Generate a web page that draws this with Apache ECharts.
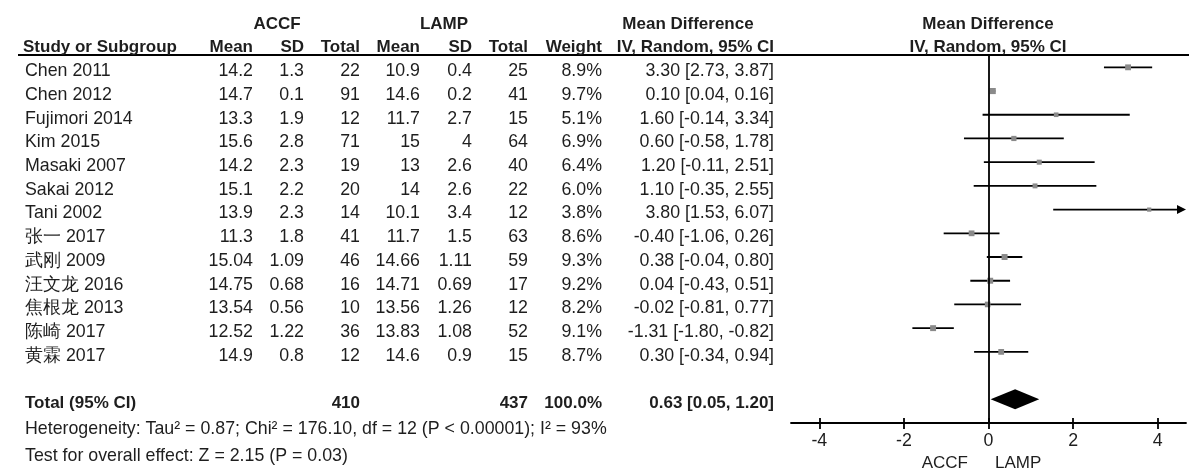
<!DOCTYPE html>
<html>
<head>
<meta charset="utf-8">
<script src="https://cdn.jsdelivr.net/npm/echarts@6/dist/echarts.min.js"></script>
<style>
html,body{margin:0;padding:0;background:#fff;}
#chart{width:1189px;height:473px;}
</style>
</head>
<body>
<div id="chart"></div>
<script>
// ---------------- data ----------------
const studies = ['Chen 2011','Chen 2012','Fujimori 2014','Kim 2015','Masaki 2007','Sakai 2012','Tani 2002','张一 2017','武刚 2009','汪文龙 2016','焦根龙 2013','陈崎 2017','黄霖 2017'];
const accfMean = [14.2,14.7,13.3,15.6,14.2,15.1,13.9,11.3,15.04,14.75,13.54,12.52,14.9];
const accfSD   = [1.3,0.1,1.9,2.8,2.3,2.2,2.3,1.8,1.09,0.68,0.56,1.22,0.8];
const accfN    = [22,91,12,71,19,20,14,41,46,16,10,36,12];
const lampMean = [10.9,14.6,11.7,15,13,14,10.1,11.7,14.66,14.71,13.56,13.83,14.6];
const lampSD   = [0.4,0.2,2.7,4,2.6,2.6,3.4,1.5,1.11,0.69,1.26,1.08,0.9];
const lampN    = [25,41,15,64,40,22,12,63,59,17,12,52,15];
const weights  = [8.9,9.7,5.1,6.9,6.4,6.0,3.8,8.6,9.3,9.2,8.2,9.1,8.7];
const md       = [3.30,0.10,1.60,0.60,1.20,1.10,3.80,-0.40,0.38,0.04,-0.02,-1.31,0.30];
const ciLow    = [2.73,0.04,-0.14,-0.58,-0.11,-0.35,1.53,-1.06,-0.04,-0.43,-0.81,-1.80,-0.34];
const ciHigh   = [3.87,0.16,3.34,1.78,2.51,2.55,6.07,0.26,0.80,0.51,0.77,-0.82,0.94];
const totalAccfN = 410, totalLampN = 437, totalWeight = 100.0;
const totalMD = 0.63, totalLow = 0.05, totalHigh = 1.20;
const tickValues = [-4,-2,0,2,4];
const heterogeneityText = 'Heterogeneity: Tau\u00b2 = 0.87; Chi\u00b2 = 176.10, df = 12 (P < 0.00001); I\u00b2 = 93%';
const overallText = 'Test for overall effect: Z = 2.15 (P = 0.03)';

// ---------------- layout ----------------
const XMIN = -4.67, XMAX = 4.67;
const FONT = '"Liberation Sans", Arial, sans-serif';
const FS = 17.8;
const TXT = '#1e1e1e';
const TEXT_DY = 4;
const TOTAL_ROW = 14;
const LW = 1.8;

const ciText = (m,l,h) => m.toFixed(2) + ' [' + l.toFixed(2) + ', ' + h.toFixed(2) + ']';

function txt(text, x, y, align, bold, size) {
  return {
    type: 'text',
    style: {
      text: text, x: x, y: y, align: align || 'left', verticalAlign: 'middle',
      fill: TXT, fontFamily: FONT, fontSize: size || FS, fontWeight: bold ? 'bold' : 'normal'
    },
    silent: true
  };
}

const chart = echarts.init(document.getElementById('chart'), null, {renderer: 'canvas'});

const ciData = studies.map((s, i) => [ciLow[i], ciHigh[i], md[i], weights[i], i]);
const tableData = studies.map((s, i) => [0, i]);

function renderCI(params, api) {
  const lo = api.value(0), hi = api.value(1), m = api.value(2), w = api.value(3), r = api.value(4);
  const p0 = api.coord([Math.max(lo, XMIN), r]);
  const p1 = api.coord([Math.min(hi, XMAX), r]);
  const pm = api.coord([m, r]);
  const children = [];
  const arrow = hi > XMAX;
  children.push({
    type: 'line',
    shape: {x1: p0[0], y1: p0[1], x2: arrow ? p1[0] - 6 : p1[0], y2: p1[1]},
    style: {stroke: '#000', lineWidth: LW}
  });
  if (arrow) {
    children.push({
      type: 'polygon',
      shape: {points: [[p1[0], p1[1]], [p1[0] - 9, p1[1] - 4.5], [p1[0] - 9, p1[1] + 4.5]]},
      style: {fill: '#000'}
    });
  }
  const s = 3 + w * 0.32;
  children.push({
    type: 'rect',
    shape: {x: pm[0] - s / 2, y: pm[1] - s / 2, width: s, height: s},
    style: {fill: '#8a8a8a'}
  });
  return {type: 'group', children: children};
}

function renderDiamond(params, api) {
  const lo = api.coord([api.value(0), api.value(3)]);
  const hi = api.coord([api.value(1), api.value(3)]);
  const m = api.coord([api.value(2), api.value(3)]);
  const h = 10;
  return {
    type: 'polygon',
    shape: {points: [[lo[0], lo[1]], [m[0], m[1] - h], [hi[0], hi[1]], [m[0], m[1] + h]]},
    style: {fill: '#000'}
  };
}

function renderTable(params, api) {
  const i = params.dataIndex;
  const y = api.coord([0, api.value(1)])[1] + TEXT_DY;
  return {
    type: 'group',
    children: [
      txt(studies[i], 25, y, 'left'),
      txt(String(accfMean[i]), 253, y, 'right'),
      txt(String(accfSD[i]), 304, y, 'right'),
      txt(String(accfN[i]), 360, y, 'right'),
      txt(String(lampMean[i]), 420, y, 'right'),
      txt(String(lampSD[i]), 472, y, 'right'),
      txt(String(lampN[i]), 528, y, 'right'),
      txt(weights[i].toFixed(1) + '%', 602, y, 'right'),
      txt(ciText(md[i], ciLow[i], ciHigh[i]), 774, y, 'right')
    ]
  };
}

function renderTotal(params, api) {
  const y = api.coord([0, api.value(1)])[1] + TEXT_DY;
  return {
    type: 'group',
    children: [
      txt('Total (95% CI)', 25, y, 'left', true, 17),
      txt(String(totalAccfN), 360, y, 'right', true, 17),
      txt(String(totalLampN), 528, y, 'right', true, 17),
      txt(totalWeight.toFixed(1) + '%', 602, y, 'right', true, 17),
      txt(ciText(totalMD, totalLow, totalHigh), 774, y, 'right', true, 17)
    ]
  };
}

const option = {
  animation: false,
  backgroundColor: '#fff',
  grid: {left: 791, right: 3, top: 55, bottom: 50, containLabel: false},
  xAxis: [
    {
      type: 'value', min: XMIN, max: XMAX, position: 'bottom',
      axisLine: {show: true, onZero: false, lineStyle: {color: '#000', width: LW}},
      axisTick: {show: true, customValues: tickValues, length: 6, lineStyle: {color: '#000', width: LW}},
      axisLabel: {show: true, customValues: tickValues, margin: 9, color: TXT, fontFamily: FONT, fontSize: FS,
        showMinLabel: true, showMaxLabel: true},
      splitLine: {show: false}
    },
    {
      type: 'value', min: XMIN, max: XMAX, position: 'bottom', offset: 0,
      axisLine: {show: false, onZero: false},
      axisTick: {show: true, inside: true, customValues: tickValues, length: 5, lineStyle: {color: '#000', width: LW}},
      axisLabel: {show: false},
      splitLine: {show: false}
    }
  ],
  yAxis: {
    type: 'value', min: -0.52, max: 15.0, inverse: true, show: false
  },
  series: [
    {
      type: 'custom', name: 'ci', xAxisIndex: 0, yAxisIndex: 0, clip: false,
      renderItem: renderCI, data: ciData,
      encode: {x: [0, 1, 2], y: 4},
      markLine: {
        silent: true, symbol: ['none', 'none'], animation: false,
        label: {show: false},
        lineStyle: {color: '#000', width: LW, type: 'solid'},
        data: [{xAxis: 0}]
      }
    },
    {
      type: 'custom', name: 'total', xAxisIndex: 0, yAxisIndex: 0, clip: false,
      renderItem: renderDiamond, data: [[totalLow, totalHigh, totalMD, TOTAL_ROW]],
      encode: {x: [0, 1, 2], y: 3}
    },
    {
      type: 'custom', name: 'table', xAxisIndex: 0, yAxisIndex: 0, clip: false, silent: true,
      renderItem: renderTable, data: tableData,
      encode: {x: 0, y: 1}
    },
    {
      type: 'custom', name: 'tableTotal', xAxisIndex: 0, yAxisIndex: 0, clip: false, silent: true,
      renderItem: renderTotal, data: [[0, TOTAL_ROW]],
      encode: {x: 0, y: 1}
    }
  ],
  graphic: [
    {type: 'line', shape: {x1: 18, y1: 55, x2: 1189, y2: 55}, style: {stroke: '#000', lineWidth: LW}, silent: true},
    txt('ACCF', 277, 24, 'center', true, 17),
    txt('LAMP', 444, 24, 'center', true, 17),
    txt('Mean Difference', 688, 24, 'center', true, 17),
    txt('Mean Difference', 988, 24, 'center', true, 17),
    txt('Study or Subgroup', 23, 47, 'left', true, 17),
    txt('Mean', 253, 47, 'right', true, 17),
    txt('SD', 304, 47, 'right', true, 17),
    txt('Total', 360, 47, 'right', true, 17),
    txt('Mean', 420, 47, 'right', true, 17),
    txt('SD', 472, 47, 'right', true, 17),
    txt('Total', 528, 47, 'right', true, 17),
    txt('Weight', 602, 47, 'right', true, 17),
    txt('IV, Random, 95% CI', 774, 47, 'right', true, 17),
    txt('IV, Random, 95% CI', 988, 47, 'center', true, 17),
    txt(heterogeneityText, 25, 429, 'left'),
    txt(overallText, 25, 456, 'left'),
    txt('ACCF', 968, 463, 'right', false, 17),
    txt('LAMP', 995, 463, 'left', false, 17)
  ]
};

chart.setOption(option);
</script>
</body>
</html>
